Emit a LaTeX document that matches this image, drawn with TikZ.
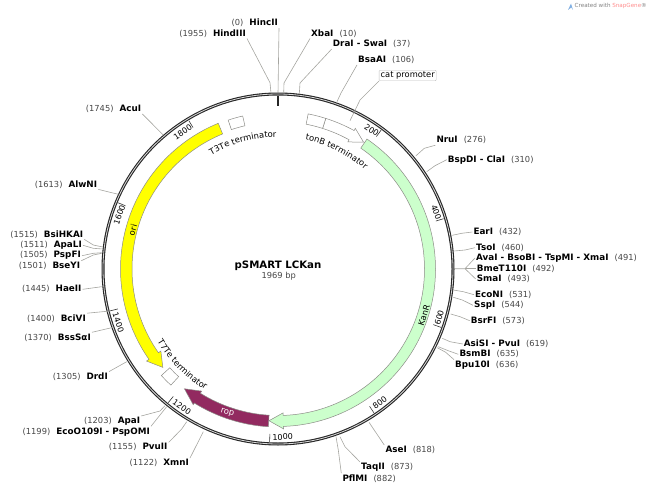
\documentclass[tikz,border=0pt]{standalone}
\usepackage{fontspec}
\setmainfont{DejaVu Sans}
\usetikzlibrary{decorations.text}

\definecolor{numgray}{RGB}{70,70,70}
\definecolor{leadgray}{RGB}{165,165,160}
\definecolor{featgray}{RGB}{140,140,135}
\definecolor{kangreen}{RGB}{204,255,204}
\definecolor{oriyellow}{RGB}{255,255,0}
\definecolor{ropred}{RGB}{146,42,96}

\newcommand{\numname}[2]{\textcolor{numgray}{\fontsize{8.3pt}{10pt}\selectfont(#1)}\hspace{6pt}\textbf{#2}}
\newcommand{\namenum}[2]{\textbf{#1}\hspace{6pt}\textcolor{numgray}{\fontsize{8.3pt}{10pt}\selectfont(#2)}}
\newcommand{\featfont}{\fontsize{8.4pt}{10pt}\selectfont}

\begin{document}
\begin{tikzpicture}[
    x=1pt, y=-1pt,
    site/.style={inner sep=1pt, font=\fontsize{8.8pt}{10pt}\selectfont},
    leader/.style={draw=leadgray, line width=0.6pt},
    feature/.style={draw=featgray, line width=0.5pt},
    ticklabel/.style={inner sep=0pt, font=\fontsize{8pt}{10pt}\selectfont},
    tickmark/.style={draw=black!80, line width=0.6pt},
    featlabel/.style={inner sep=0pt, font=\featfont}
]
\useasboundingbox (0,0) rectangle (650,489);
\coordinate (ctr) at (278,269);

% Backbone ring
\draw[black!85, line width=3pt] (ctr) circle[radius=175pt];
\draw[white!85!black, line width=0.8pt] (ctr) circle[radius=175pt];

\begin{scope}[shift={(ctr)}]
% Features on the band
\draw[feature, fill=kangreen] (55.6:157.5pt) arc[start angle=55.6, end angle=-88, radius=157.5pt] -- (-88:160pt) -- (-93.4:152pt) -- (-88:144pt) -- (-88:146.5pt) arc[start angle=-88, end angle=55.6, radius=146.5pt] -- cycle;
\draw[feature, fill=oriyellow] (112.3:157.5pt) arc[start angle=112.3, end angle=215, radius=157.5pt] -- (215:160.5pt) -- (220.5:151.5pt) -- (215:143pt) -- (215:146pt) arc[start angle=215, end angle=112.3, radius=146pt] -- cycle;
\draw[feature, fill=ropred] (-93.5:158pt) arc[start angle=-93.5, end angle=-122, radius=158pt] -- (-122:160pt) -- (-128:152pt) -- (-122:144pt) -- (-122:146.5pt) arc[start angle=-122, end angle=-93.5, radius=146.5pt] -- cycle;
\draw[feature, fill=white] (72.4:158pt) arc[start angle=72.4, end angle=61.2, radius=158pt] -- (61.2:160.5pt) -- (56:153pt) -- (61.2:145pt) -- (61.2:147.5pt) arc[start angle=61.2, end angle=72.4, radius=147.5pt] -- cycle;
\draw[feature, fill=white] (79:158pt) arc[start angle=79, end angle=72.4, radius=158pt] -- (72.4:147.5pt) arc[start angle=72.4, end angle=79, radius=147.5pt] -- cycle;
\draw[feature, fill=white] (103:157pt) arc[start angle=103, end angle=108.5, radius=157pt] -- (108.5:147pt) arc[start angle=108.5, end angle=103, radius=147pt] -- cycle;
\draw[feature, fill=white] (-132.7:158pt) arc[start angle=-132.7, end angle=-137.6, radius=158pt] -- (-137.6:146.5pt) arc[start angle=-137.6, end angle=-132.7, radius=146.5pt] -- cycle;

% Feature names that follow the arc
\path[decorate, decoration={text along path, text align=center, text={|\featfont|T3Te terminator}}] (128:132pt) arc[start angle=128, end angle=83, radius=132pt];
\path[decorate, decoration={text along path, text align=center, text={|\featfont|tonB terminator}}] (87:132pt) arc[start angle=87, end angle=40, radius=132pt];
\path[decorate, decoration={text along path, text align=center, text={|\featfont|T7Te terminator}}] (-158:141pt) arc[start angle=-158, end angle=-112, radius=141pt];

% Ticks every 200 bp
\draw[black!85, line width=1.4pt] (90:173pt) -- (90:163pt);
\draw[tickmark] (53.4:173pt) -- (53.4:165pt);
\draw[tickmark] (16.9:173pt) -- (16.9:165pt);
\draw[tickmark] (-19.7:173pt) -- (-19.7:165pt);
\draw[tickmark] (-56.3:173pt) -- (-56.3:165pt);
\draw[tickmark] (-92.8:173pt) -- (-92.8:165pt);
\draw[tickmark] (-129.4:173pt) -- (-129.4:165pt);
\draw[tickmark] (-166:173pt) -- (-166:165pt);
\draw[tickmark] (157.5:173pt) -- (157.5:165pt);
\draw[tickmark] (121:173pt) -- (121:165pt);

\node[ticklabel, rotate=-34] (t200) at (56:167.5pt) {200};
\node[ticklabel, rotate=-70] (t400) at (19.7:168pt) {400};
\node[ticklabel, rotate=73] (t600) at (-16.8:168.4pt) {600};
\node[ticklabel, rotate=37] (t800) at (-52.7:168pt) {800};
\node[ticklabel, rotate=2] (t1000) at (-88.4:168pt) {1000};
\node[ticklabel, rotate=-35] (t1200) at (-124.8:168.5pt) {1200};
\node[ticklabel, rotate=-71.5] (t1400) at (-161.5:168.4pt) {1400};
\node[ticklabel, rotate=71] (t1600) at (161.2:167.6pt) {1600};
\node[ticklabel, rotate=35] (t1800) at (124.8:167pt) {1800};
\end{scope}

% Feature names on the band
\node[featlabel, rotate=74] (ori) at (132.7,230) {ori};
\node[featlabel, rotate=72] (kanr) at (424,315) {KanR};
\node[featlabel, rotate=-15, text=white] (rop) at (227.3,412.7) {rop};

% Plasmid name
\node[inner sep=0pt, font=\fontsize{10.2pt}{12pt}\selectfont\bfseries] (title) at (278,265.7) {pSMART LCKan};
\node[inner sep=0pt, font=\fontsize{8.3pt}{10pt}\selectfont, text=numgray] (size) at (278.7,276.7) {1969 bp};

% Sites on the top and right
\node[site, anchor=east] (hincii) at (279,23) {\numname{0}{HincII}};
\node[site, anchor=east] (hindiii) at (247,33.5) {\numname{1955}{HindIII}};
\node[site, anchor=west] (xbai) at (310,33.5) {\namenum{XbaI}{10}};
\node[site, anchor=west] (drai) at (331.7,44) {\namenum{DraI - SwaI}{37}};
\node[site, anchor=west] (bsaai) at (357,60) {\namenum{BsaAI}{106}};
\node[draw=black!25, rounded corners=1pt, inner sep=1.5pt, font=\fontsize{8.3pt}{10pt}\selectfont] (catp) at (407.7,75.5) {cat promoter};
\node[site, anchor=west] (nrui) at (435.3,140.3) {\namenum{NruI}{276}};
\node[site, anchor=west] (bspdi) at (446.7,159.7) {\namenum{BspDI - ClaI}{310}};
\node[site, anchor=west] (eari) at (472.3,232) {\namenum{EarI}{432}};
\node[site, anchor=west] (tsoi) at (475,247.7) {\namenum{TsoI}{460}};
\node[site, anchor=west] (avai) at (475,258) {\namenum{AvaI - BsoBI - TspMI - XmaI}{491}};
\node[site, anchor=west] (bmet) at (475.7,268.7) {\namenum{BmeT110I}{492}};
\node[site, anchor=west] (smai) at (475.7,279) {\namenum{SmaI}{493}};
\node[site, anchor=west] (econi) at (474,294.7) {\namenum{EcoNI}{531}};
\node[site, anchor=west] (sspi) at (473,305.3) {\namenum{SspI}{544}};
\node[site, anchor=west] (bsrfi) at (469.7,320.7) {\namenum{BsrFI}{573}};
\node[site, anchor=west] (asisi) at (462.7,344) {\namenum{AsiSI - PvuI}{619}};
\node[site, anchor=west] (bsmbi) at (458.3,354.3) {\namenum{BsmBI}{635}};
\node[site, anchor=west] (bpu) at (454,365) {\namenum{Bpu10I}{636}};
\node[site, anchor=west] (asei) at (384.3,450) {\namenum{AseI}{818}};
\node[site, anchor=west] (taqii) at (360,467.3) {\namenum{TaqII}{873}};
\node[site, anchor=west] (pflmi) at (341.3,478.3) {\namenum{PflMI}{882}};

% Sites on the bottom and left
\node[site, anchor=east] (xmni) at (190,463) {\numname{1122}{XmnI}};
\node[site, anchor=east] (pvuii) at (168.7,447.3) {\numname{1155}{PvuII}};
\node[site, anchor=east] (eco) at (151,431.7) {\numname{1199}{EcoO109I - PspOMI}};
\node[site, anchor=east] (apai) at (141.3,421.3) {\numname{1203}{ApaI}};
\node[site, anchor=east] (drdi) at (109,376.7) {\numname{1305}{DrdI}};
\node[site, anchor=east] (bsss) at (92,337.3) {\numname{1370}{BssSαI}};
\node[site, anchor=east] (bcivi) at (87,318.3) {\numname{1400}{BciVI}};
\node[site, anchor=east] (haeii) at (82.7,289.3) {\numname{1445}{HaeII}};
\node[site, anchor=east] (bseyi) at (81.3,265.7) {\numname{1501}{BseYI}};
\node[site, anchor=east] (pspfi) at (82,255.7) {\numname{1505}{PspFI}};
\node[site, anchor=east] (apali) at (83,245.3) {\numname{1511}{ApaLI}};
\node[site, anchor=east] (bsih) at (84.3,234.3) {\numname{1515}{BsiHKAI}};
\node[site, anchor=east] (alwni) at (98.3,184.3) {\numname{1613}{AlwNI}};
\node[site, anchor=east] (acui) at (142.3,109) {\numname{1745}{AcuI}};

% Leaders, label to ring
\draw[leader] (hincii.south east) -- (278,93);
\draw[leader] (hindiii.south east) -- (270,82.7) -- (271,93);
\draw[leader] (xbai.south west) -- (284,83) -- (283.7,93);
\draw[leader] (drai.south west) -- (300,83) -- (299.3,94);
\draw[leader] (bsaai.south west) -- (341,93) -- (337,101.7);
\draw[leader] (catp.south west) -- (360,100) -- (350,120.7);
\draw[leader] (nrui.south west) -- (424.3,148.3) -- (415.7,156);
\draw[leader] (bspdi.west) -- (435,165.7) -- (426.7,171.7);
\draw[leader] (eari.west) -- (461.7,233.3) -- (452.3,235.3);
\draw[leader] (tsoi.west) -- (465,250) -- (454.3,251);
\draw[leader] (avai.west) -- (465,268.7) -- (454.3,268.7);
\draw[leader] (bmet.west) -- (465,268.7);
\draw[leader] (smai.west) -- (465,268.7);
\draw[leader] (econi.west) -- (463.3,291.7) -- (453.3,290);
\draw[leader] (sspi.west) -- (462.3,300) -- (453.3,297.3);
\draw[leader] (bsrfi.west) -- (460,316.7) -- (450.7,314);
\draw[leader] (asisi.west) -- (450,341.7) -- (442.3,338.3);
\draw[leader] (bsmbi.west) -- (449,351) -- (438.3,346.7);
\draw[leader] (bpu.north west) -- (445.7,352.3) -- (437.3,347.7);
\draw[leader] (asei.north west) -- (369,422.3);
\draw[leader] (taqii.north west) -- (345,446.7) -- (340,436.7);
\draw[leader] (pflmi.north west) -- (338.3,450) -- (336,436.7);
\draw[leader] (xmni.north east) -- (203.3,431.7);
\draw[leader] (pvuii.north east) -- (181.7,429) -- (186.7,421.7);
\draw[leader] (eco.north east) -- (166.7,406.7);
\draw[leader] (apai.north east) -- (160,411) -- (165,405.7);
\draw[leader] (drdi.north east) -- (126.7,361.7);
\draw[leader] (bsss.north east) -- (113.3,327.3);
\draw[leader] (bcivi.north east) -- (110,311);
\draw[leader] (haeii.east) -- (101.7,286.7);
\draw[leader] (bseyi.north east) -- (93.3,255) -- (101.7,253.3);
\draw[leader] (pspfi.east) -- (93.3,253.3) -- (101.7,252.7);
\draw[leader] (apali.east) -- (93.3,248.3) -- (102.7,249);
\draw[leader] (bsih.south east) -- (93.3,245) -- (102.7,247);
\draw[leader] (alwni.south east) -- (118.3,194.3);
\draw[leader] (acui.south east) -- (163.3,135);

% Credit line
\fill[cyan!60!blue!50] (568,10) -- (571,3.5) -- (573,10) -- (571.3,7.5) -- cycle;
\node[anchor=east, inner sep=0pt, font=\fontsize{5.6pt}{7pt}\selectfont, text=black!50] (credit) at (647,6) {Created with \textcolor{red!45}{SnapGene}®};

\end{tikzpicture}
\end{document}
